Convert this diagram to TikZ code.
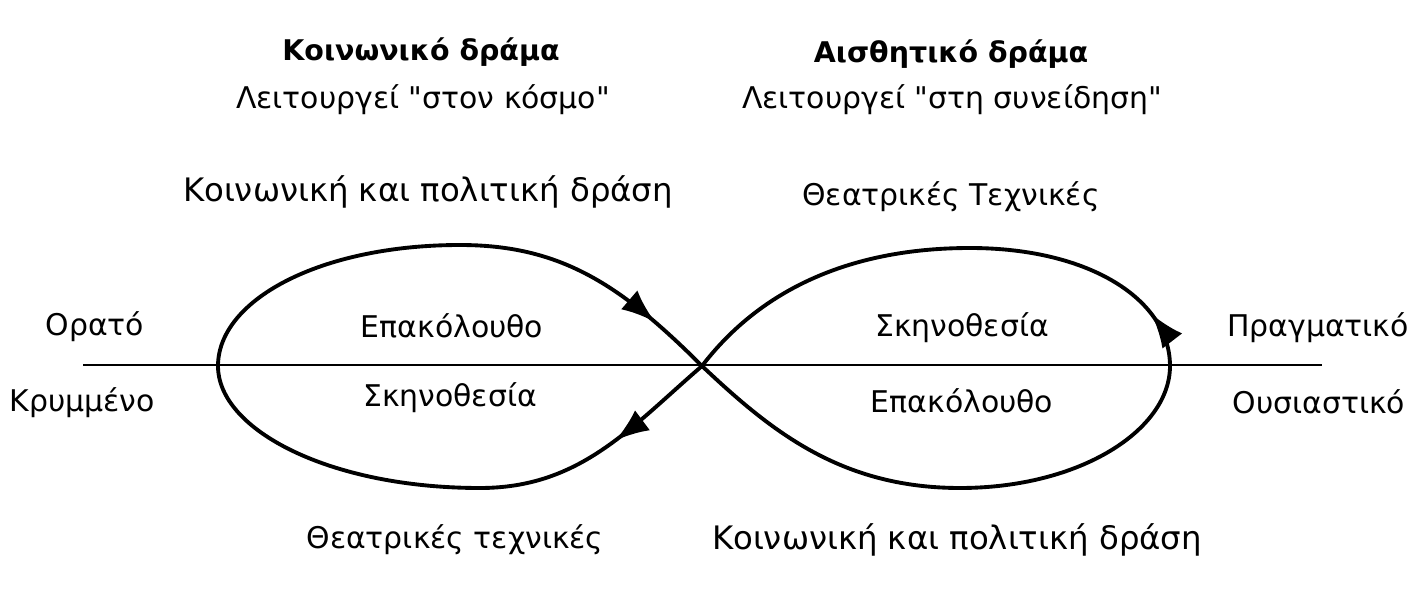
\documentclass[tikz,border=0pt]{standalone}
\usepackage{fontspec}
\setmainfont{DejaVu Sans}[Ligatures=TeXOff]
\usetikzlibrary{arrows.meta, decorations.markings}

\begin{document}
\begin{tikzpicture}[x=0.01cm, y=-0.01cm,
  every node/.style={font=\fontsize{8.5}{10}\selectfont, inner sep=0pt},
  title/.style={font=\fontsize{8.1}{10}\selectfont\bfseries},
  wide/.style={font=\fontsize{9.2}{11}\selectfont},
  loopline/.style={line width=1.1pt, line cap=round},
  axisline/.style={line width=0.6pt},
  arrowat/.style={postaction={decorate}, decoration={markings,
      mark=at position #1 with {\arrow{Latex[length=3.4mm, width=2.5mm]}}}},
]
\useasboundingbox (0,0) rectangle (1426,615);

% Titles
\node[title] (socT)  at (421,52)  {Κοινωνικό δράμα};
\node        (socS)  at (423,100) {Λειτουργεί "στον κόσμο"};
\node[title] (aesT)  at (951,54)  {Αισθητικό δράμα};
\node        (aesS)  at (952,100) {Λειτουργεί "στη συνείδηση"};

% Upper / lower labels
\node[wide] (socAct) at (428,192) {Κοινωνική και πολιτική δράση};
\node (aesTech) at (951,197) {Θεατρικές Τεχνικές};
\node (socTech) at (455,540) {Θεατρικές τεχνικές};
\node[wide] (aesAct) at (957,540) {Κοινωνική και πολιτική δράση};

% Side labels
\node (vis)  at (95,327)   {Ορατό};
\node (hid)  at (82,403)   {Κρυμμένο};
\node (real) at (1318,328) {Πραγματικό};
\node (ess)  at (1319,402) {Ουσιαστικό};

% Inside the loops
\node (lUp)  at (452,326) {Επακόλουθο};
\node (lLow) at (450,398) {Σκηνοθεσία};
\node (rUp)  at (962,328) {Σκηνοθεσία};
\node (rLow) at (962,401) {Επακόλουθο};

% ── Axis ──
\coordinate (axL) at (83,365);
\coordinate (axR) at (1322,365);
\draw[axisline] (axL) -- (axR);

% ── Figure eight ──
\coordinate (C)  at (702,366);
\coordinate (BR) at (960,488);
\coordinate (RE) at (1170,366);
\coordinate (TR) at (970,248);
\coordinate (BL) at (480,488);
\coordinate (LE) at (218,366);
\coordinate (TL) at (460,245);

\draw[loopline] (C) .. controls (770,430) and (840,488) .. (BR)
                    .. controls (1080,488) and (1170,430) .. (RE);
\draw[loopline, arrowat=0.22] (RE) .. controls (1170,300) and (1090,248) .. (TR);
\draw[loopline] (TR) .. controls (850,248) and (760,290) .. (C);
\draw[loopline, arrowat=0.44] (C) .. controls (630,428) and (580,488) .. (BL);
\draw[loopline] (BL) .. controls (330,488) and (218,430) .. (LE)
                     .. controls (218,300) and (320,245) .. (TL);
\draw[loopline, arrowat=0.77] (TL) .. controls (560,245) and (620,284) .. (C);

\end{tikzpicture}
\end{document}
